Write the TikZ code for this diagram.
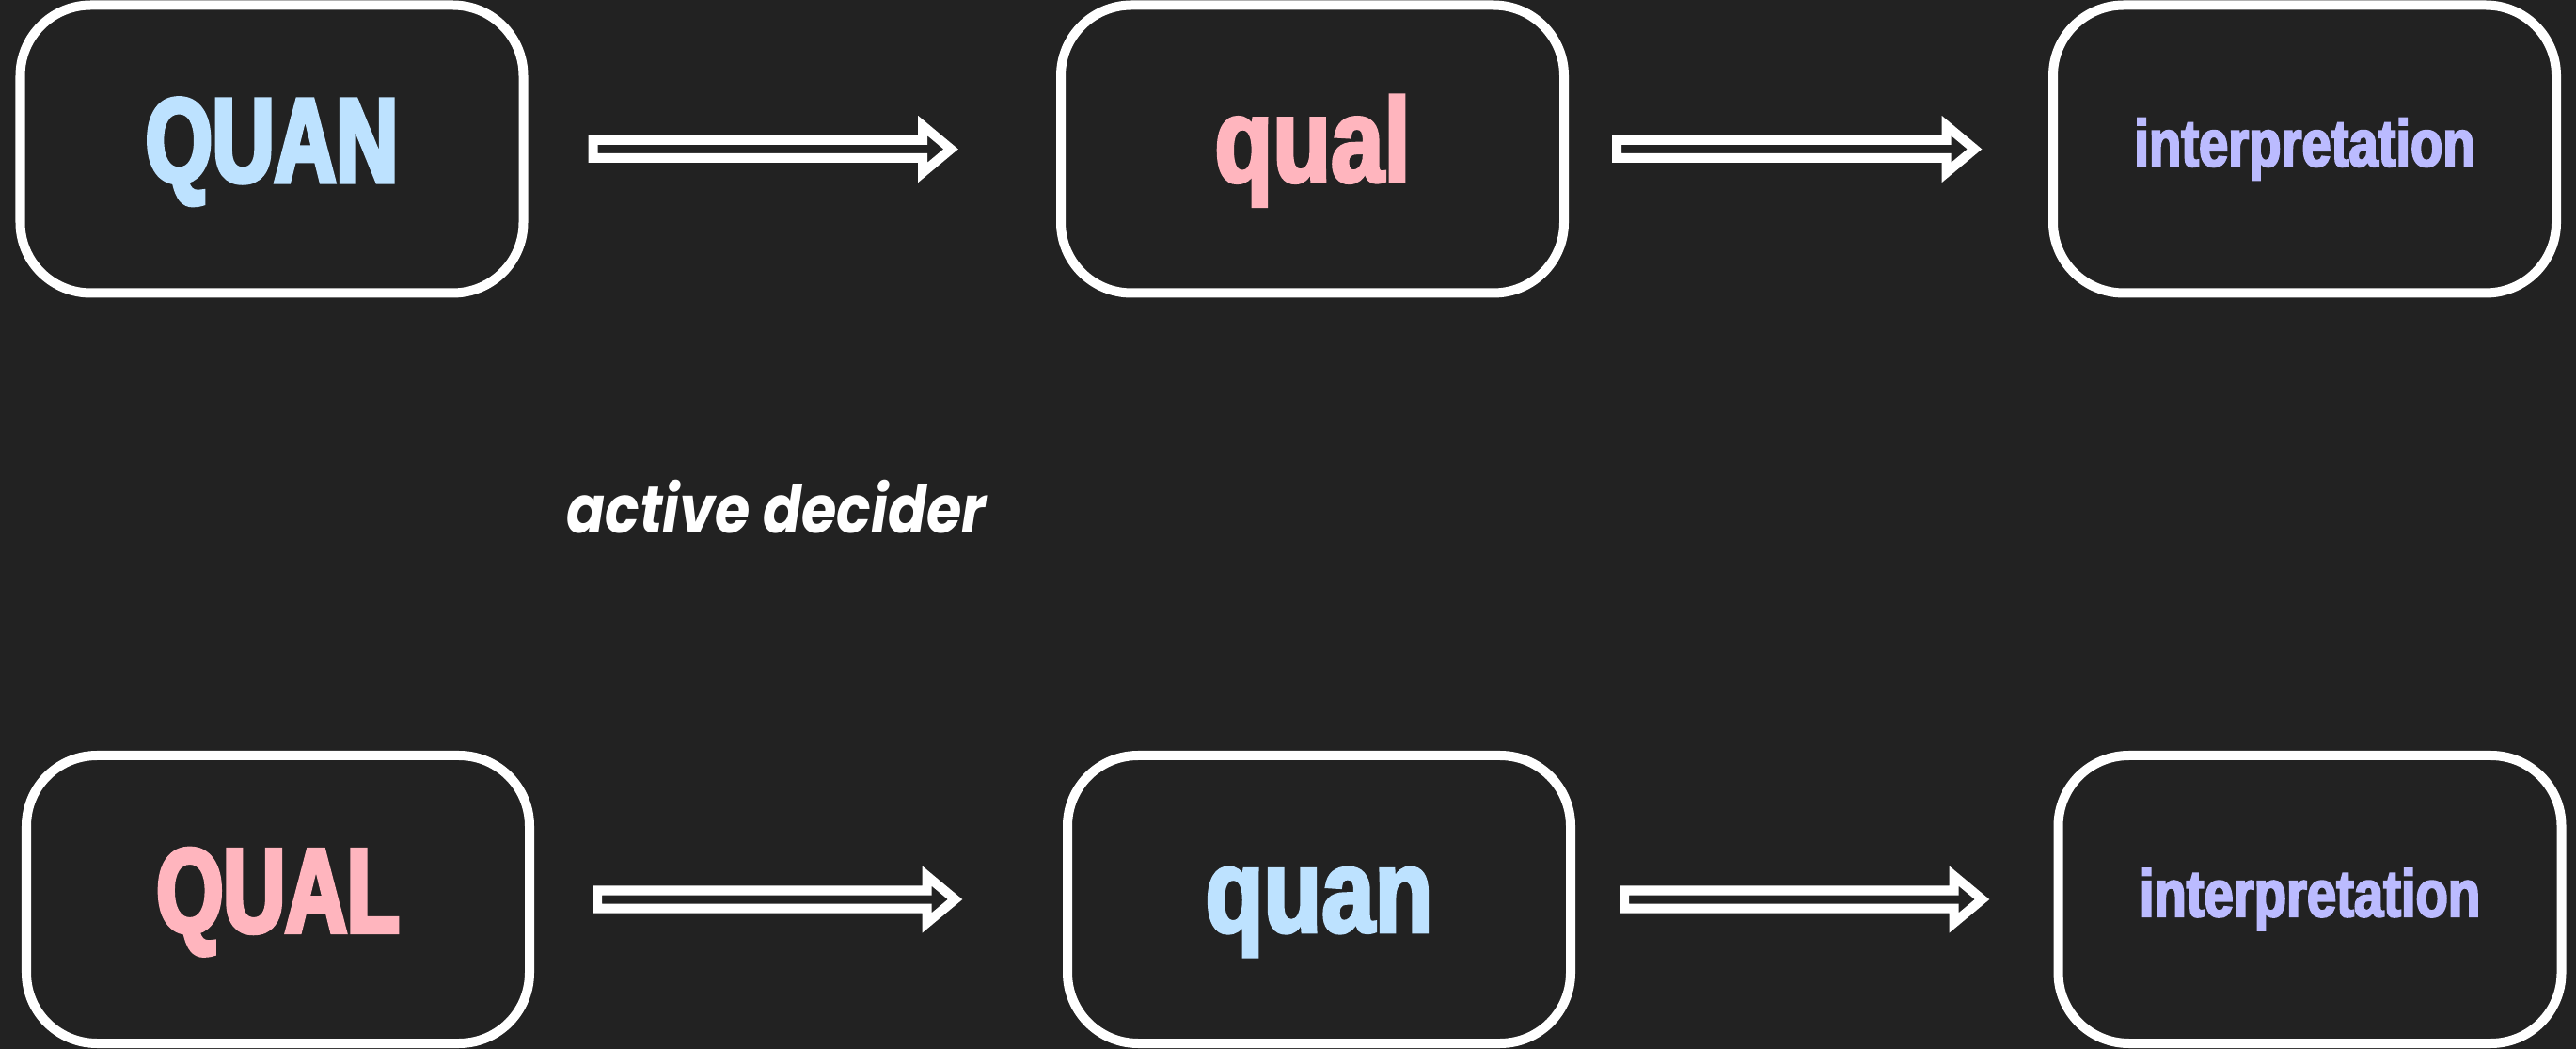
\documentclass[tikz,border=0pt]{standalone}
\usepackage{fontspec}
\setmainfont{Liberation Sans}
\newfontfamily\capfont{Liberation Sans Bold}[FakeStretch=0.72, FakeBold=4]
\newfontfamily\condfont{Liberation Sans Bold}[FakeStretch=0.80, FakeBold=3]
\newfontfamily\deciderfont{Poppins}[FakeStretch=0.86]
\usetikzlibrary{calc}

\definecolor{bg}{HTML}{222222}
\definecolor{quancol}{HTML}{BDE2FF}
\definecolor{qualcol}{HTML}{FFB5BE}
\definecolor{interpcol}{HTML}{BBBBFF}

\tikzset{
  stagebox/.style={draw=white, line width=0.1cm, rounded corners=0.75cm,
    minimum width=5.35cm, minimum height=3.06cm, inner sep=0pt},
  capword/.style={font=\capfont\fontsize{36}{36}\selectfont,
    text height=0.9cm, text depth=0.21cm},
  lowword/.style={font=\condfont\fontsize{36}{36}\selectfont,
    text height=0.9cm, text depth=0.21cm},
  smallword/.style={font=\condfont\fontsize{20}{20}\selectfont, text=interpcol},
  fatarrow/.style={draw=white, line width=0.1cm, fill=bg, line join=miter,
    to path={let \p1=(\tikztostart.east) in
      (\x1+#1,\y1+0.095cm) -- (\x1+#1+3.505cm,\y1+0.095cm) -- (\x1+#1+3.505cm,\y1+0.25cm)
      -- (\x1+#1+3.805cm,\y1) -- (\x1+#1+3.505cm,\y1-0.25cm) -- (\x1+#1+3.505cm,\y1-0.095cm)
      -- (\x1+#1,\y1-0.095cm) -- cycle}},
}

\begin{document}
\begin{tikzpicture}
  \useasboundingbox (0,0) rectangle (27.39,-11.15);
  \fill[bg] (0,0) rectangle (27.39,-11.15);

  \node[stagebox, capword, text=quancol] (bigquan) at (2.89,-1.585) {QUAN};
  \node[stagebox, lowword, text=qualcol] (qual) at (13.955,-1.585) {qual};
  \node[stagebox, smallword] (interp) at (24.505,-1.585) {interpretation};
  \node[anchor=base west, text=white, font=\deciderfont\bfseries\itshape\fontsize{20}{20}\selectfont] (decider) at (5.90,-5.67) {active decider};
  \node[stagebox, capword, text=qualcol] (bigqual) at (2.955,-9.56) {QUAL};
  \node[stagebox, lowword, text=quancol] (quan) at (14.025,-9.56) {quan};
  \node[stagebox, smallword] (interpp) at (24.56,-9.56) {interpretation};

  \draw[fatarrow=0.69cm] (bigquan) to (qual); \draw[fatarrow=0.51cm] (qual) to (interp);
  \draw[fatarrow=0.67cm] (bigqual) to (quan); \draw[fatarrow=0.52cm] (quan) to (interpp);
\end{tikzpicture}
\end{document}
